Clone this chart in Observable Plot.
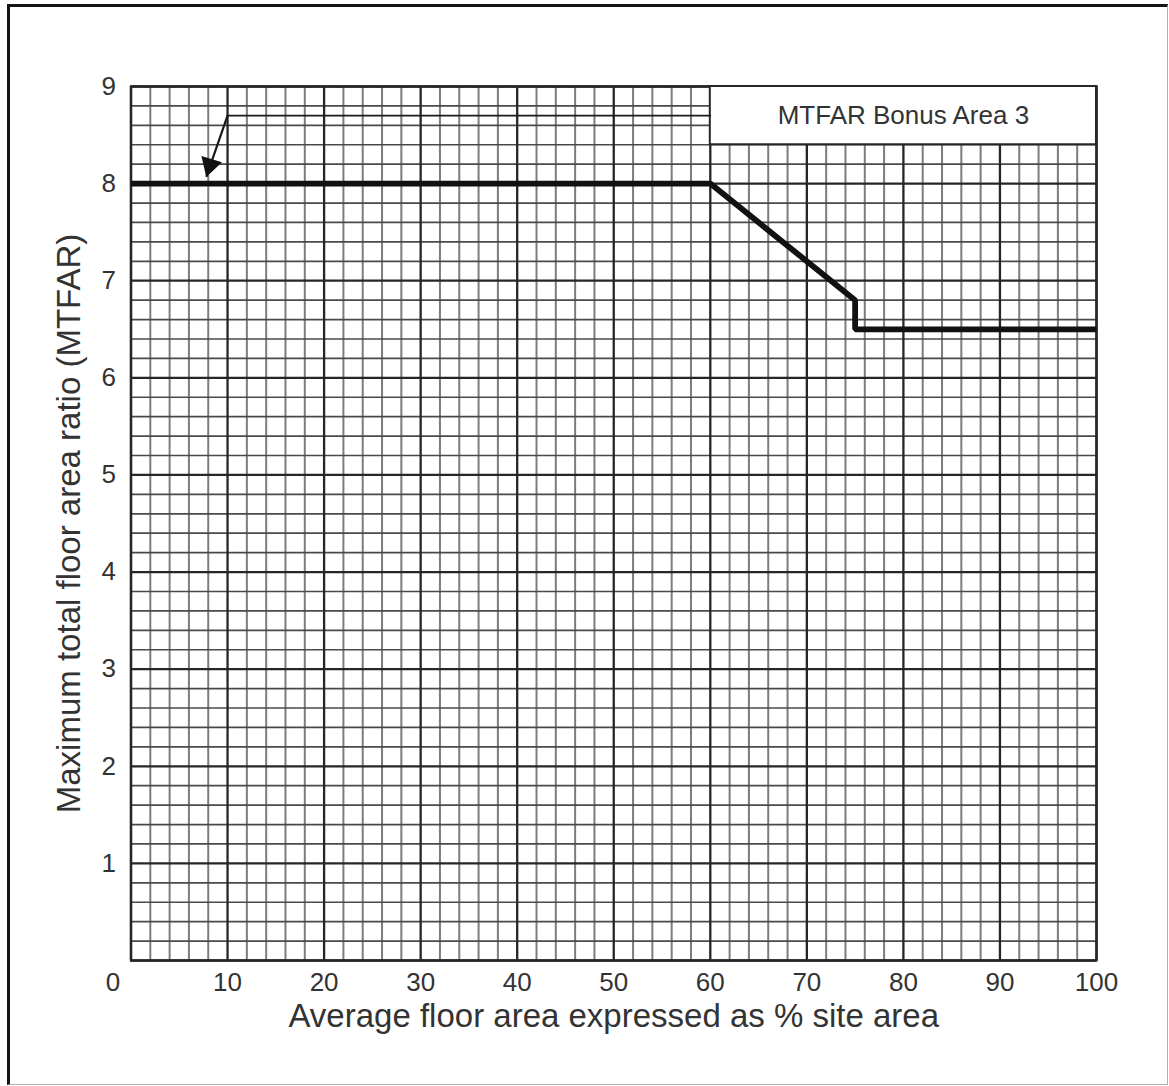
<!DOCTYPE html>
<html>
<head>
<meta charset="utf-8">
<script src="https://cdn.jsdelivr.net/npm/d3@7"></script>
<script src="https://cdn.jsdelivr.net/npm/@observablehq/plot@0.6"></script>
<style>
  html, body { margin: 0; padding: 0; background: #fff; }
  #wrap { position: relative; width: 1169px; height: 1086px; overflow: hidden; }
  #frame { position: absolute; left: 7px; top: 4px; width: 1161px; height: 1081px; box-sizing: border-box;
           border-left: 3px solid #151515; border-top: 3px solid #151515; border-right: 1px solid #b0b0b0; border-bottom: 1px solid #b0b0b0; pointer-events: none; }
  svg { font-family: "Liberation Sans", Arial, sans-serif; }
</style>
</head>
<body>
<div id="wrap"><div id="frame"></div></div>
<script>
// ---- data ----
const xTickValues = [10, 20, 30, 40, 50, 60, 70, 80, 90, 100];
const yTickValues = [1, 2, 3, 4, 5, 6, 7, 8, 9];
const cornerLabel = ["0"];
const mtfarX = [0, 60, 75, 75, 100];
const mtfarY = [8, 8, 6.8, 6.5, 6.5];
const bonusLineX = [10, 60];
const bonusLineY = [8.7, 8.7];
const arrowStart = [10, 8.7];
const arrowTip = [7.8, 8.07];
const boxX = [60, 100];
const boxY = [8.4, 9];
const boxLabel = "MTFAR Bonus Area 3";
const xLabel = "Average floor area expressed as % site area";
const yLabel = "Maximum total floor area ratio (MTFAR)";

// grid positions
const xMinor = d3.range(0, 101, 2).filter(v => v % 10 !== 0);
const yMinor = d3.range(0, 46, 1).map(v => v / 5).filter(v => Math.abs(v - Math.round(v)) > 1e-9);
const xMajor = d3.range(0, 101, 10);
const yMajor = d3.range(0, 10, 1);

const mtfar = mtfarX.map((x, i) => ({x, y: mtfarY[i]}));
const bonusLine = bonusLineX.map((x, i) => ({x, y: bonusLineY[i]}));

const TXT = "#333";
const chart = Plot.plot({
  width: 1169,
  height: 1086,
  marginLeft: 130.5,
  marginRight: 73,
  marginTop: 86,
  marginBottom: 126,
  x: {domain: [0, 100]},
  y: {domain: [0, 9]},
  style: {fontFamily: "'Liberation Sans', Arial, sans-serif", background: "transparent"},
  marks: [
    Plot.ruleX(xMinor, {stroke: "#7d7d7d", strokeWidth: 2}),
    Plot.ruleY(yMinor, {stroke: "#4a4a4a", strokeWidth: 1.7}),
    Plot.ruleX(xMajor, {stroke: "#262626", strokeWidth: 2.3}),
    Plot.ruleY(yMajor, {stroke: "#262626", strokeWidth: 2.3}),
    Plot.frame({stroke: "#262626", strokeWidth: 2.3}),
    // bonus area box
    Plot.rect([0], {x1: () => boxX[0], x2: () => boxX[1], y1: () => boxY[0], y2: () => boxY[1], fill: "#fff", stroke: "#262626", strokeWidth: 2}),
    Plot.text([boxLabel], {x: () => (boxX[0] + boxX[1]) / 2, y: () => (boxY[0] + boxY[1]) / 2, text: d => d, fontSize: 26, fill: TXT}),
    // thin bonus line and arrow
    Plot.line(bonusLine, {x: "x", y: "y", stroke: "#1a1a1a", strokeWidth: 1.8}),
    Plot.link([0], {x1: () => arrowStart[0], y1: () => arrowStart[1], x2: () => arrowTip[0], y2: () => arrowTip[1], stroke: "#1a1a1a", strokeWidth: 2.2}),
    Plot.dot([0], {x: () => arrowTip[0], y: () => arrowTip[1], symbol: "triangle", r: 8, fill: "#111", stroke: "none", rotate: 197, dx: 3.6, dy: -11.8}),
    // main line
    Plot.line(mtfar, {x: "x", y: "y", stroke: "#111", strokeWidth: 5.8, strokeLinejoin: "miter", strokeLinecap: "butt"}),
    // axes
    Plot.axisX(xTickValues, {tickSize: 0, tickPadding: 12, fontSize: 26, fill: TXT, label: null, tickFormat: d3.format("d")}),
    Plot.axisY(yTickValues, {tickSize: 0, tickPadding: 15, fontSize: 26, fill: TXT, label: null, tickFormat: d3.format("d")}),
    Plot.text(cornerLabel, {x: () => 0, y: () => 0, text: d => d, dx: -18, dy: 22, fontSize: 26, fill: TXT}),
    Plot.text([xLabel], {frameAnchor: "bottom", textAnchor: "middle", dy: 66, text: d => d, fontSize: 33, fill: TXT}),
    Plot.text([yLabel], {frameAnchor: "left", textAnchor: "middle", dx: -62, rotate: -90, text: d => d, fontSize: 33, fill: TXT})
  ]
});
chart.style.position = "absolute";
chart.style.left = "0px";
chart.style.top = "0px";
document.getElementById("wrap").prepend(chart);
</script>
</body>
</html>
